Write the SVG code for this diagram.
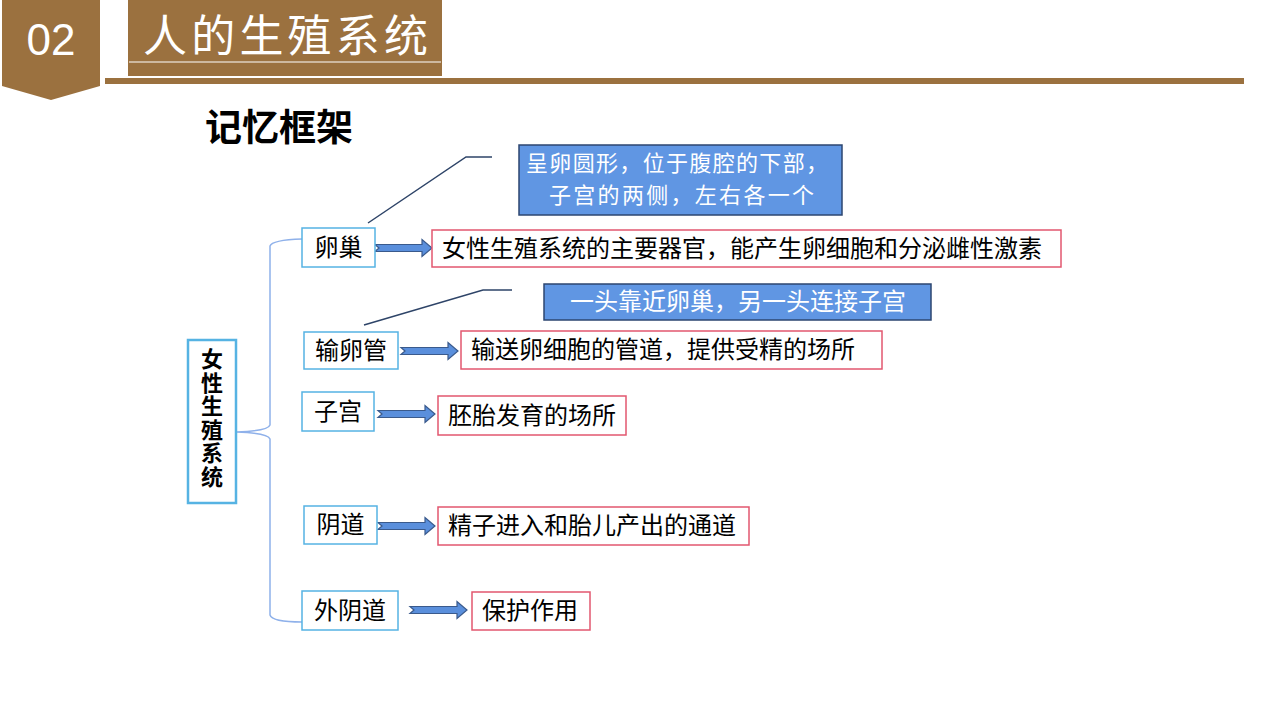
<svg xmlns="http://www.w3.org/2000/svg" width="1280" height="720" viewBox="0 0 1280 720">
<defs>
<style>
.t{font-family:"Noto Sans CJK SC","Noto Sans",sans-serif;}
.node rect.n{fill:#fff;stroke:#56B3E3;stroke-width:1.5;}
.desc rect{fill:#fff;stroke:#E2576F;stroke-width:1.5;}
.lbl{font-size:24px;fill:#000;}
.call rect{fill:#6096E3;stroke:#2C4670;stroke-width:1.5;}
.call text{font-size:24px;fill:#fff;}
.arr{fill:#5A8FDC;stroke:#3A5A8C;stroke-width:1.2;}
.lead{fill:none;stroke:#2E4468;stroke-width:1.5;}
.brace{fill:none;stroke:#8FB1EA;stroke-width:1.5;}
</style>
<path id="blk" class="arr" d="M0,-3.5 L47,-3.5 L47,-8.5 L57,0 L47,8.5 L47,3.5 L0,3.5 L4,0 Z"/>
</defs>
<rect width="1280" height="720" fill="#fff"/>

<g id="header">
<path d="M2,0 L100,0 L100,86 L51,100 L2,86 Z" fill="#9B713F"/>
<text x="51" y="55" text-anchor="middle" font-family="Liberation Sans,Arial,sans-serif" font-size="44" fill="#fff">02</text>
<rect x="128" y="0" width="314" height="76" fill="#9B713F"/>
<line x1="129" y1="62" x2="441" y2="62" stroke="#fff" stroke-width="1.2"/>
<text class="t" x="143" y="52" font-size="44" fill="#fff" textLength="285" lengthAdjust="spacing">人的生殖系统</text>
<rect x="105" y="78" width="1139" height="6" fill="#9B713F"/>
</g>

<g id="heading">
<text class="t" x="205" y="141" font-size="37" font-weight="bold" fill="#000">记忆框架</text>
</g>

<g id="connectors">
<path class="brace" d="M302,239 Q272,240 270,246 L270,425 Q268,431 236,432 Q268,433 270,439 L270,615 Q272,622 302,622"/>
<polyline class="lead" points="368,223 466,157 492,157"/>
<polyline class="lead" points="364,325 483,290 512,290"/>
<use href="#blk" x="375" y="248"/>
<use href="#blk" x="401" y="351"/>
<use href="#blk" x="378" y="414"/>
<use href="#blk" x="378" y="526"/>
<use href="#blk" x="410" y="610"/>
</g>

<g id="root" class="node">
<rect class="n" x="188" y="340" width="48" height="163" style="stroke-width:2.5"/>
<text class="t" x="212" y="348" font-size="22" font-weight="bold" fill="#000" writing-mode="vertical-rl" style="writing-mode:vertical-rl;letter-spacing:1.5px">女性生殖系统</text>
</g>

<g id="ovary" class="node">
<rect class="n" x="302" y="228" width="73" height="39"/>
<text class="t lbl" x="338.5" y="256" text-anchor="middle">卵巢</text>
</g>
<g id="ovary-desc" class="desc">
<rect x="432" y="230" width="629" height="37"/>
<text class="t lbl" x="442" y="257">女性生殖系统的主要器官，能产生卵细胞和分泌雌性激素</text>
</g>
<g id="ovary-note" class="call">
<rect x="519" y="145" width="323" height="70"/>
<text class="t" style="font-size:22px"><tspan x="526" y="171" textLength="302" lengthAdjust="spacing">呈卵圆形，位于腹腔的下部，</tspan><tspan x="549" y="203" textLength="265" lengthAdjust="spacing">子宫的两侧，左右各一个</tspan></text>
</g>

<g id="tube" class="node">
<rect class="n" x="304" y="332" width="94" height="37"/>
<text class="t lbl" x="351" y="359" text-anchor="middle">输卵管</text>
</g>
<g id="tube-desc" class="desc">
<rect x="461" y="331" width="421" height="38"/>
<text class="t lbl" x="471" y="358">输送卵细胞的管道，提供受精的场所</text>
</g>
<g id="tube-note" class="call">
<rect x="544" y="284" width="387" height="36"/>
<text class="t" x="570" y="310">一头靠近卵巢，另一头连接子宫</text>
</g>

<g id="uterus" class="node">
<rect class="n" x="302" y="392" width="72" height="39"/>
<text class="t lbl" x="338" y="420" text-anchor="middle">子宫</text>
</g>
<g id="uterus-desc" class="desc">
<rect x="438" y="396" width="188" height="39"/>
<text class="t lbl" x="448" y="424">胚胎发育的场所</text>
</g>

<g id="vagina" class="node">
<rect class="n" x="304" y="506" width="73" height="38"/>
<text class="t lbl" x="340.5" y="533" text-anchor="middle">阴道</text>
</g>
<g id="vagina-desc" class="desc">
<rect x="438" y="507" width="311" height="38"/>
<text class="t lbl" x="448" y="534">精子进入和胎儿产出的通道</text>
</g>

<g id="vulva" class="node">
<rect class="n" x="302" y="591" width="96" height="39"/>
<text class="t lbl" x="350" y="619" text-anchor="middle">外阴道</text>
</g>
<g id="vulva-desc" class="desc">
<rect x="472" y="592" width="118" height="38"/>
<text class="t lbl" x="482" y="619">保护作用</text>
</g>
</svg>
